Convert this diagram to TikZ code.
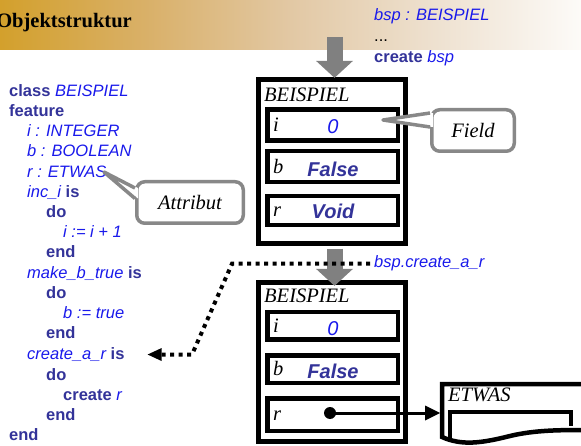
\documentclass[tikz,border=0pt]{standalone}
\usepackage{fontspec}
\newfontfamily\arial{Liberation Sans}
\newfontfamily\tms{Liberation Serif}
\usetikzlibrary{arrows.meta}
\definecolor{kw}{RGB}{51,51,153}
\definecolor{idc}{RGB}{25,25,235}
\definecolor{arrgray}{RGB}{128,128,128}
\definecolor{calgray}{RGB}{136,136,136}
\definecolor{hdA}{RGB}{211,160,44}
\definecolor{hdB}{RGB}{217,176,104}
\definecolor{hdC}{RGB}{226,200,164}
\definecolor{hdD}{RGB}{238,225,208}
\definecolor{hdE}{RGB}{253,251,248}
\pgfdeclarehorizontalshading{hdr}{100bp}{color(0bp)=(hdA); color(25bp)=(hdA); color(37.5bp)=(hdB); color(50bp)=(hdC); color(62.5bp)=(hdD); color(75bp)=(hdE); color(100bp)=(hdE)}
\newcommand\kwd[1]{{\bfseries\color{kw}#1}}
\newcommand\idn[1]{{\itshape\color{idc}#1}}
\begin{document}
\begin{tikzpicture}[x=1pt,y=-1pt,
  code/.style={anchor=base west, inner sep=0pt, font=\arial\fontsize{16.5}{20}\selectfont},
  ser/.style={anchor=base west, inner sep=0pt, font=\tms\fontsize{20.5}{24}\selectfont\itshape},
  objbox/.style={draw, line width=4.8pt, minimum width=147pt, fill=white, inner sep=0pt},
  fieldbox/.style={draw, line width=4.5pt, minimum width=130.5pt, inner sep=0pt},
  val/.style={anchor=base, inner sep=0pt, font=\arial\fontsize{20}{24}\selectfont},
  grayarrow/.style={draw=arrgray, line width=16pt, -{Triangle[length=17pt,width=37pt,line width=0pt]}},
  dots/.style={line width=4pt, dash pattern=on 4pt off 4.5pt, -{Triangle[length=14pt,width=13pt,line width=0pt]}},
  callbox/.style={draw=calgray, line width=3.5pt, fill=white, rounded corners=8pt, inner sep=0pt, font=\tms\fontsize{20.5}{24}\selectfont\itshape},
  calline/.style={draw=calgray, line width=3.5pt, line join=round}
]
\useasboundingbox (0,0) rectangle (581,446);
\clip (0,0) rectangle (581,446);
% header
\shade[shading=hdr] (0,0) rectangle (581,50);
\node[anchor=base east, inner sep=0pt, font=\tms\fontsize{20.5}{24}\selectfont\bfseries] (title) at (132,28) {Objektstruktur};
% code
\node[code] (c0) at (9,97) {\kwd{class} \idn{BEISPIEL}};
\node[code] (c1) at (9,117) {\kwd{feature}};
\node[code] (c2) at (27,137) {\idn{i : INTEGER}};
\node[code] (c3) at (27,157) {\idn{b : BOOLEAN}};
\node[code] (c4) at (27,177.5) {\idn{r : ETWAS}};
\node[code] (c5) at (27,198) {\idn{inc\_i} \kwd{is}};
\node[code] (c6) at (46,218) {\kwd{do}};
\node[code] (c7) at (63,238) {\idn{i := i + 1}};
\node[code] (c8) at (46,258) {\kwd{end}};
\node[code] (c9) at (27,278.5) {\idn{make\_b\_true} \kwd{is}};
\node[code] (c10) at (46,298.5) {\kwd{do}};
\node[code] (c11) at (63,318.5) {\idn{b := true}};
\node[code] (c12) at (46,338.5) {\kwd{end}};
\node[code] (c13) at (27,359.5) {\idn{create\_a\_r} \kwd{is}};
\node[code] (c14) at (46,380) {\kwd{do}};
\node[code] (c15) at (63,400) {\kwd{create} \idn{r}};
\node[code] (c16) at (46,420.5) {\kwd{end}};
\node[code] (c17) at (9,440.5) {\kwd{end}};
% top right text
\node[code] (t1) at (374,21) {\idn{bsp : BEISPIEL}};
\node[code] (t2) at (374,42) {...};
\node[code] (t3) at (374,63) {\kwd{create} \idn{bsp}};
\node[code] (t4) at (374,268) {\idn{bsp.create\_a\_r}};
% object 1
\node[objbox, minimum height=164.5pt] (o1) at (332,161.5) {};
\node[fieldbox, minimum height=31pt] (i1) at (332.5,125) {};
\node[fieldbox, minimum height=31pt] (b1) at (332.5,166.5) {};
\node[fieldbox, minimum height=29pt] (r1) at (332.5,210.5) {};
\node[ser] (n1) at (264,102) {BEISPIEL};
\node[ser] (li1) at (273,132) {i};
\node[ser] (lb1) at (273,174) {b};
\node[ser] (lr1) at (273,217) {r};
\node[val] (vi1) at (333,134) {\idn{0}};
\node[val] (vb1) at (333,176.5) {\kwd{\itshape False}};
\node[val] (vr1) at (333,219) {\kwd{\itshape Void}};
% object 2
\node[objbox, minimum height=159.5pt] (o2) at (332,362) {};
\node[fieldbox, minimum height=27.5pt] (i2) at (332.5,326) {};
\node[fieldbox, minimum height=27.5pt] (b2) at (332.5,369) {};
\node[fieldbox, minimum height=32.5pt] (r2) at (332.5,414.5) {};
\node[ser] (n2) at (264,303) {BEISPIEL};
\node[ser] (li2) at (273,333) {i};
\node[ser] (lb2) at (273,375) {b};
\node[ser] (lr2) at (273,420) {r};
\node[val] (vi2) at (333,335) {\idn{0}};
\node[val] (vb2) at (333,378) {\kwd{\itshape False}};
% ETWAS object (cut off)
\draw[line width=4.5pt] (590,384) -- (442,384) -- (442,437) .. controls (462,446) and (482,443) .. (510,436) .. controls (535,430) and (560,430) .. (590,430);
\draw[line width=4.5pt] (450,440) -- (450,412) -- (571,412) -- (571,426);
\node[ser] (etw) at (448,401) {ETWAS};
% reference
\node[circle, fill=black, minimum size=12pt, inner sep=0pt] (dot) at (330,413) {};
\coordinate (etwl) at (440,413);
\draw[line width=3pt, -{Triangle[length=15pt,width=15pt,line width=0pt]}] (dot.center) -- (etwl);
% gray arrows
\coordinate (a1s) at (334.5,37);
\draw[grayarrow] (a1s) -- ([xshift=2.5pt,yshift=-1pt]o1.north);
\draw[grayarrow] ([xshift=2.5pt,yshift=-2.5pt]o1.south) -- ([xshift=2.5pt,yshift=-6pt]o2.north);
% dotted call arrow
\coordinate (k1) at (232,263);
\coordinate (k2) at (192,353);
\draw[dots] ([xshift=-4pt]t4.west) -- (t4.west -| k1) -- (k2 |- c13.east) -- ([xshift=23pt]c13.east);
% callouts
\node[callbox, minimum width=82.5pt, minimum height=41.5pt] (fieldc) at (473,130.5) {Field};
\coordinate (ftip) at (383,120);
\fill[white] (ftip) -- ([xshift=3pt,yshift=17.5pt]fieldc.west) -- ([xshift=3pt,yshift=3.5pt]fieldc.west) -- cycle;
\draw[calline] ([yshift=17.5pt]fieldc.west) -- (ftip) -- ([yshift=3.5pt]fieldc.west);
\node[callbox, minimum width=106.5pt, minimum height=41.5pt] (attc) at (190,202.5) {Attribut};
\coordinate (atip) at (104,172);
\fill[white] (atip) -- ([xshift=3pt,yshift=14.5pt]attc.west) -- ([xshift=3pt,yshift=4pt]attc.west) -- cycle;
\draw[calline] ([yshift=14.5pt]attc.west) -- (atip) -- ([yshift=4pt]attc.west);
\end{tikzpicture}
\end{document}
